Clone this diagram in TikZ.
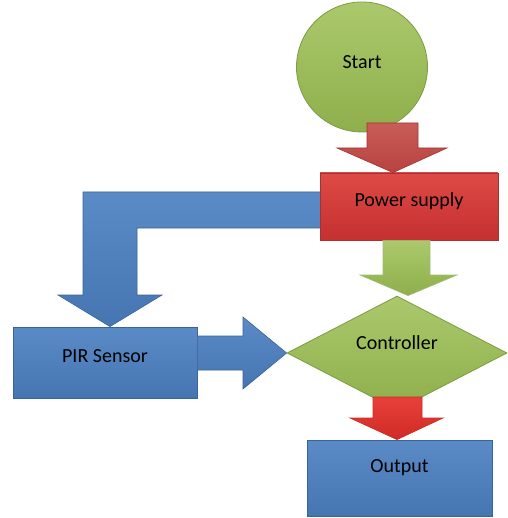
\documentclass[tikz,border=0pt]{standalone}
\usepackage{fontspec}
\setmainfont{Carlito}
\usetikzlibrary{shapes.geometric,calc}
\definecolor{gtop}{HTML}{ABC96C}
\definecolor{gbot}{HTML}{8EAF4B}
\definecolor{gline}{HTML}{7C9C42}
\definecolor{btop}{HTML}{5B8BC6}
\definecolor{bbot}{HTML}{4676B1}
\definecolor{bline}{HTML}{3A6496}
\definecolor{rtop}{HTML}{DE4A45}
\definecolor{rbot}{HTML}{C53030}
\definecolor{rline}{HTML}{A33232}
\definecolor{ratop}{HTML}{C95D58}
\definecolor{rabot}{HTML}{B8423F}
\definecolor{r2top}{HTML}{E8413B}
\definecolor{r2bot}{HTML}{D02A26}
\begin{document}
\begin{tikzpicture}[x=1pt,y=-1pt,
  base/.style={draw, line width=0.8pt, inner sep=0pt, text=black,
    font=\fontsize{20}{24}\selectfont, text height=14pt},
  greenfill/.style={draw=gline, top color=gtop, bottom color=gbot},
  bluefill/.style={draw=bline, top color=btop, bottom color=bbot},
  redfill/.style={draw=rline, top color=rtop, bottom color=rbot},
  redarrowfill/.style={draw=rline, top color=ratop, bottom color=rabot},
  red2fill/.style={draw=rline, top color=r2top, bottom color=r2bot},
  blockarrow/.style={line width=0.6pt, line join=miter}
]
\useasboundingbox (0,0) rectangle (507,518);

% nodes
\node[base, greenfill, ellipse, minimum width=131pt, minimum height=130pt, text depth=11pt] (start) at (362,67) {Start};
\node[base, bluefill, rectangle, minimum width=184pt, minimum height=71pt, text depth=15pt] (pir) at (105,362.5) {PIR Sensor};

% bent blue arrow (behind power supply box)
\draw[blockarrow, bluefill]
  ($(330,192)$) -- (83,192) -- (83,295) -- (58,295)
  -- ($(pir.north)+(5,0)$) -- (162,295) -- (137,295) -- (137,228) -- (330,228) -- cycle;

\node[base, redfill, rectangle, minimum width=178pt, minimum height=67pt, text depth=13pt] (power) at (409,206.5) {Power supply};
\node[base, greenfill, diamond, aspect=2, minimum width=220pt, minimum height=114pt, text depth=21pt] (ctrl) at (397,353) {Controller};
\node[base, bluefill, rectangle, minimum width=185pt, minimum height=76pt, text depth=25pt] (out) at (399.5,478) {Output};

% Start -> Power supply
\draw[blockarrow, redarrowfill]
  (367,123) -- (418,123) -- (418,148) -- (447,148)
  -- (393,0 |- power.north) -- (337,148) -- (367,148) -- cycle;

% Power supply -> Controller
\draw[blockarrow, greenfill, draw=gline!70]
  (383,0 |- power.south) -- (430,0 |- power.south) -- (430,275) -- (457,275)
  -- (408,0 |- ctrl.north) -- (360,275) -- (383,275) -- cycle;

% PIR Sensor -> Controller
\draw[blockarrow, bluefill]
  (pir.east |- 0,336) -- (243,336) -- (243,317)
  -- (ctrl.west) -- (243,389) -- (243,370) -- (pir.east |- 0,370) -- cycle;

% Controller -> Output
\draw[blockarrow, red2fill, draw=r2bot]
  (373,397) -- (422,397) -- (422,418) -- (443,418)
  -- (397,0 |- out.north) -- (350,418) -- (373,418) -- cycle;
\end{tikzpicture}
\end{document}
